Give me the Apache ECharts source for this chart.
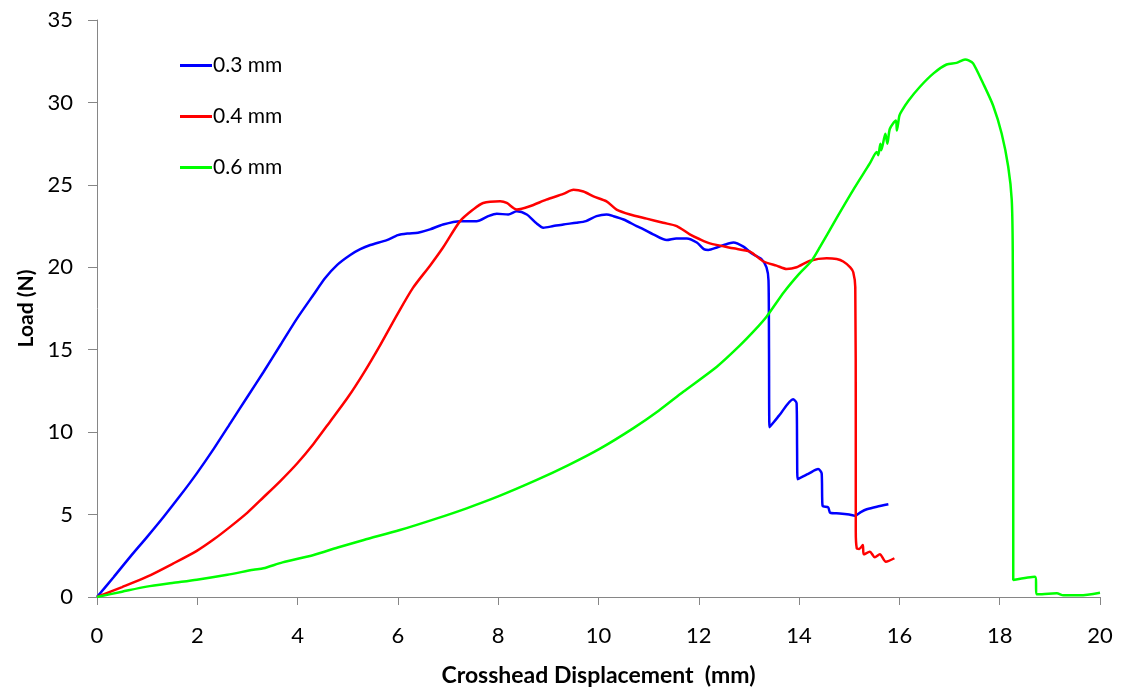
<!DOCTYPE html>
<html>
<head>
<meta charset="utf-8">
<script src="https://cdn.jsdelivr.net/npm/echarts@6/dist/echarts.min.js"></script>
<style>
  html, body { margin: 0; padding: 0; background: #fff; }
  #chart { width: 1121px; height: 691px; }
</style>
</head>
<body>
<div id="chart"></div>
<script>
// Load-displacement curves for three specimen thicknesses
const seriesNames = ['0.3 mm', '0.4 mm', '0.6 mm'];
const seriesColors = ['#0000FF', '#FF0000', '#00FF00'];

// 0.3 mm specimen
const disp03 = [0, 0.33, 0.665, 1.0, 1.33, 1.66, 1.99, 2.33, 2.66, 3.0, 3.32, 3.66, 3.99, 4.32, 4.55, 4.79, 5.05, 5.25, 5.45, 5.78, 6.0, 6.2, 6.4, 6.64, 6.9, 7.24, 7.57, 7.8, 7.97, 8.2, 8.37, 8.57, 8.75, 8.9, 9.1, 9.3, 9.56, 9.75, 9.96, 10.16, 10.3, 10.5, 10.76, 10.9, 11.09, 11.36, 11.55, 11.76, 11.96, 12.1, 12.19, 12.36, 12.5, 12.69, 12.89, 13.05, 13.25, 13.35, 13.39, 13.4, 13.41, 13.6, 13.88, 13.95, 13.96, 13.97, 14.2, 14.38, 14.45, 14.46, 14.47, 14.58, 14.62, 14.81, 15.0, 15.11, 15.23, 15.35, 15.55, 15.78];
const load03 = [0, 1.2, 2.45, 3.65, 4.87, 6.15, 7.5, 9.0, 10.55, 12.15, 13.65, 15.3, 16.9, 18.35, 19.35, 20.15, 20.75, 21.1, 21.35, 21.65, 21.95, 22.05, 22.1, 22.3, 22.6, 22.8, 22.8, 23.1, 23.25, 23.2, 23.4, 23.2, 22.7, 22.4, 22.5, 22.6, 22.7, 22.8, 23.1, 23.2, 23.1, 22.9, 22.5, 22.3, 22.0, 21.65, 21.75, 21.75, 21.5, 21.1, 21.05, 21.2, 21.35, 21.5, 21.25, 20.85, 20.5, 20.0, 19.2, 15.0, 10.3, 11.0, 12.0, 11.75, 9.0, 7.14, 7.5, 7.76, 7.5, 6.0, 5.52, 5.44, 5.11, 5.07, 5.0, 4.93, 5.15, 5.32, 5.48, 5.62];

// 0.4 mm specimen
const disp04 = [0, 0.5, 1.0, 1.5, 1.99, 2.33, 2.66, 3.0, 3.32, 3.66, 3.99, 4.32, 4.65, 5.0, 5.32, 5.65, 5.98, 6.3, 6.64, 6.9, 7.24, 7.5, 7.7, 8.04, 8.17, 8.37, 8.63, 8.96, 9.3, 9.5, 9.7, 9.9, 10.16, 10.36, 10.63, 10.96, 11.29, 11.56, 11.82, 12.02, 12.22, 12.69, 13.02, 13.29, 13.55, 13.75, 13.95, 14.22, 14.55, 14.75, 14.88, 15.02, 15.08, 15.12, 15.13, 15.13, 15.15, 15.2, 15.27, 15.29, 15.41, 15.51, 15.61, 15.73, 15.9];
const load04 = [0, 0.6, 1.23, 2.0, 2.8, 3.5, 4.27, 5.12, 6.05, 7.05, 8.1, 9.3, 10.65, 12.1, 13.6, 15.3, 17.1, 18.75, 20.1, 21.2, 22.8, 23.5, 23.9, 24.0, 23.9, 23.5, 23.7, 24.1, 24.45, 24.7, 24.6, 24.3, 24.0, 23.5, 23.2, 22.95, 22.7, 22.5, 22.0, 21.7, 21.45, 21.15, 20.95, 20.35, 20.1, 19.9, 20.0, 20.4, 20.55, 20.5, 20.35, 20.0, 19.7, 18.8, 10.0, 4.0, 2.95, 2.91, 3.15, 2.59, 2.75, 2.41, 2.59, 2.14, 2.35];

// 0.6 mm specimen
const disp06 = [0, 0.5, 0.99, 1.5, 1.99, 2.6, 3.12, 3.32, 3.7, 4.32, 4.8, 5.32, 6.04, 6.78, 7.37, 8.0, 8.77, 9.4, 10.03, 10.69, 11.2, 11.69, 12.36, 12.8, 13.12, 13.35, 13.7, 14.0, 14.25, 14.42, 14.75, 15.08, 15.41, 15.55, 15.58, 15.62, 15.64, 15.72, 15.76, 15.81, 15.93, 15.95, 16.0, 16.05, 16.18, 16.41, 16.68, 16.94, 17.14, 17.31, 17.38, 17.47, 17.67, 17.87, 18.04, 18.17, 18.24, 18.26, 18.27, 18.27, 18.7, 18.75, 19.14, 19.27, 19.6, 20.0];
const load06 = [0, 0.32, 0.63, 0.85, 1.05, 1.35, 1.65, 1.74, 2.1, 2.55, 3.0, 3.46, 4.06, 4.77, 5.38, 6.1, 7.1, 8.0, 9.0, 10.23, 11.3, 12.45, 13.97, 15.2, 16.2, 17.0, 18.5, 19.6, 20.4, 21.25, 23.0, 24.7, 26.3, 27.0, 26.8, 27.5, 27.1, 28.1, 27.5, 28.4, 28.9, 28.3, 29.2, 29.5, 30.1, 30.95, 31.76, 32.3, 32.4, 32.6, 32.55, 32.37, 31.15, 29.8, 28.1, 26.1, 24.1, 21.0, 10.0, 1.03, 1.23, 0.16, 0.22, 0.1, 0.1, 0.26];

// Axis ranges and tick spacing
const xMin = 0, xMax = 20, xStep = 2;
const yMin = 0, yMax = 35, yStep = 5;
const xTitle = 'Crosshead Displacement  (mm)';
const yTitle = 'Load (N)';

const pairs = (xs, ys) => xs.map((x, i) => [x, ys[i]]);
const curves = [pairs(disp03, load03), pairs(disp04, load04), pairs(disp06, load06)];

const FONT = 'Lato, "Open Sans", sans-serif';
const axisGray = '#868686';

const chart = echarts.init(document.getElementById('chart'), null, { renderer: 'canvas' });
chart.setOption({
  animation: false,
  backgroundColor: '#ffffff',
  textStyle: { fontFamily: FONT, color: '#000' },
  grid: { left: 97, right: 21, top: 20, bottom: 94, containLabel: false, outerBoundsMode: 'none' },
  legend: {
    orient: 'vertical',
    left: 175,
    top: 48,
    icon: 'rect',
    itemWidth: 32,
    itemHeight: 3,
    itemGap: 26,
    data: seriesNames,
    textStyle: { fontFamily: FONT, fontSize: 21, color: '#000', padding: [0, 0, 0, -4], lineHeight: 25 }
  },
  xAxis: {
    type: 'value',
    min: xMin, max: xMax, interval: xStep,
    name: xTitle,
    nameLocation: 'middle',
    nameGap: 67,
    nameTextStyle: { fontFamily: FONT, fontSize: 23, fontWeight: 'bold', color: '#000' },
    axisLine: { show: true, onZero: false, lineStyle: { color: axisGray, width: 1 } },
    axisTick: { show: true, length: 8, lineStyle: { color: axisGray } },
    splitLine: { show: false },
    axisLabel: { fontFamily: FONT, fontSize: 22, color: '#000', margin: 28 }
  },
  yAxis: {
    type: 'value',
    min: yMin, max: yMax, interval: yStep,
    name: yTitle,
    nameLocation: 'middle',
    nameGap: 58,
    nameTextStyle: { fontFamily: FONT, fontSize: 21, fontWeight: 'bold', color: '#000' },
    axisLine: { show: true, lineStyle: { color: axisGray, width: 1 } },
    axisTick: { show: true, length: 9, lineStyle: { color: axisGray } },
    splitLine: { show: false },
    axisLabel: { fontFamily: FONT, fontSize: 22, color: '#000', margin: 24 }
  },
  series: seriesNames.map((name, i) => ({
    name: name,
    type: 'line',
    data: curves[i],
    symbol: 'none',
    smooth: 0.25,
    color: seriesColors[i],
    lineStyle: { color: seriesColors[i], width: 2.5 }
  }))
});
</script>
</body>
</html>
